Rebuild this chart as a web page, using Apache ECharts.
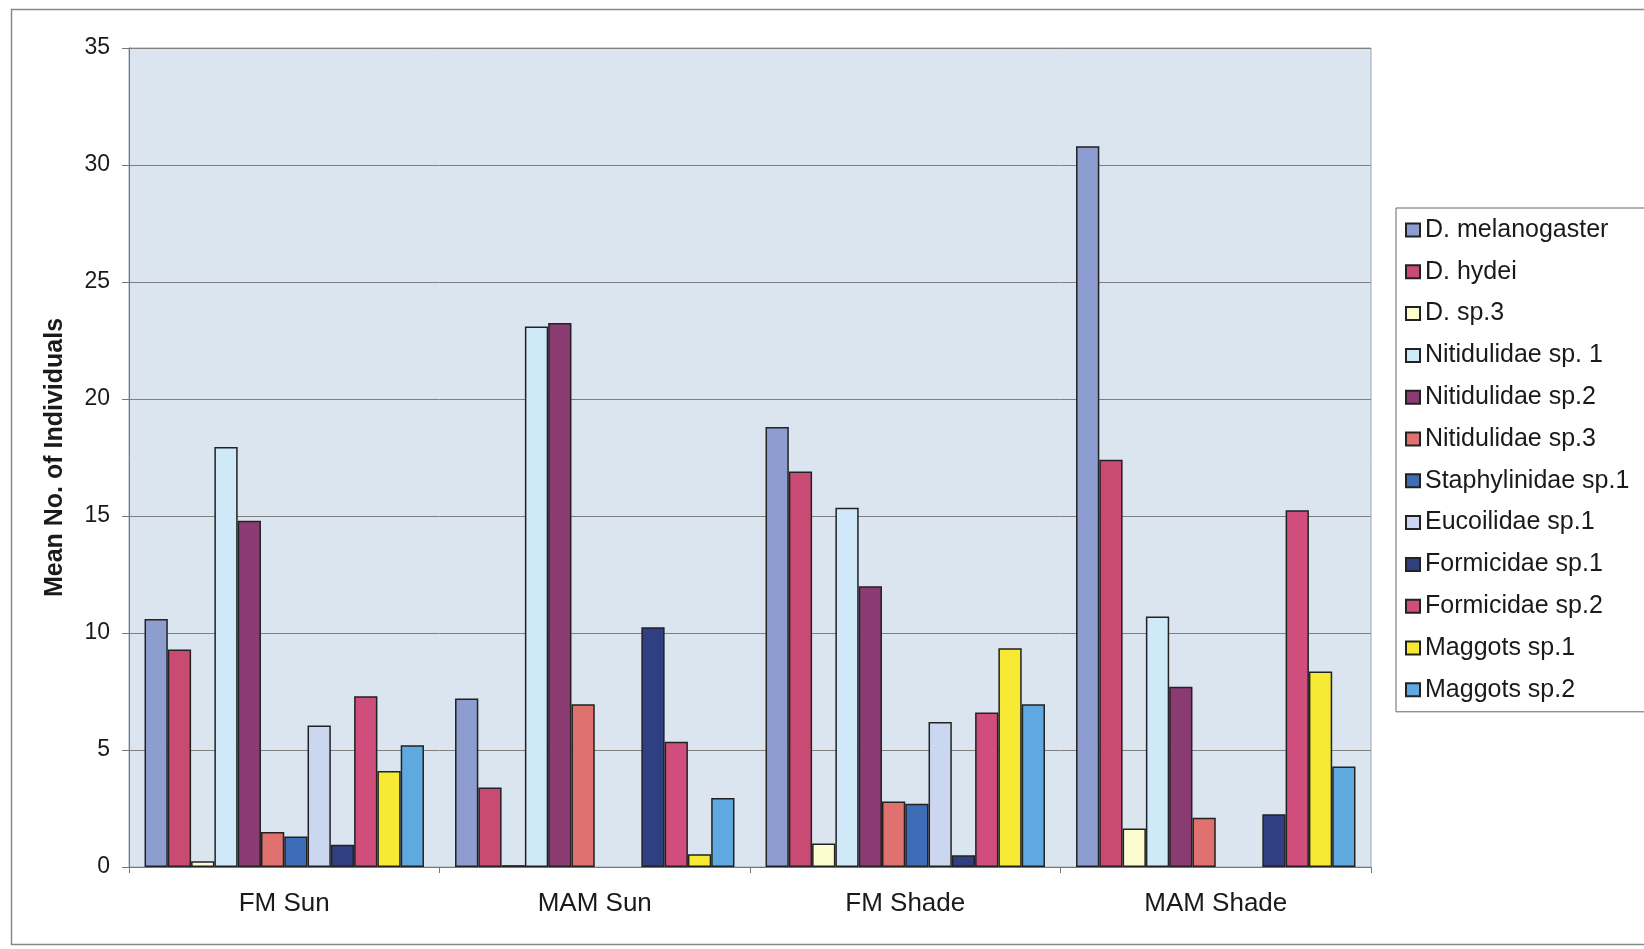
<!DOCTYPE html>
<html><head><meta charset="utf-8">
<script src="https://cdn.jsdelivr.net/npm/echarts@6/dist/echarts.min.js"></script>
<style>html,body{margin:0;padding:0;background:#fff}#c{width:1644px;height:949px}</style>
</head><body><div id="c"></div>
<script>
const categories = ['FM Sun', 'MAM Sun', 'FM Shade', 'MAM Shade'];
const seriesNames = ['D. melanogaster','D. hydei','D. sp.3','Nitidulidae sp. 1','Nitidulidae sp.2','Nitidulidae sp.3','Staphylinidae sp.1','Eucoilidae sp.1','Formicidae sp.1','Formicidae sp.2','Maggots sp.1','Maggots sp.2'];
const dMelanogaster = [10.6, 7.2, 18.8, 30.8];
const dHydei = [9.3, 3.4, 16.9, 17.4];
const dSp3 = [0.25, 0.08, 1.0, 1.65];
const nitidulidae1 = [17.95, 23.1, 15.35, 10.7];
const nitidulidae2 = [14.8, 23.25, 12.0, 7.7];
const nitidulidae3 = [1.5, 6.95, 2.8, 2.1];
const staphylinidae1 = [1.3, 0, 2.7, 0];
const eucoilidae1 = [6.05, 0, 6.2, 0];
const formicidae1 = [0.95, 10.25, 0.5, 2.25];
const formicidae2 = [7.3, 5.35, 6.6, 15.25];
const maggots1 = [4.1, 0.55, 9.35, 8.35];
const maggots2 = [5.2, 2.95, 6.95, 4.3];
const yTicks = [0, 5, 10, 15, 20, 25, 30, 35];
const colors = ['#8d9dd0','#c94b74','#fdfbd0','#d0e9f8','#8a3c72','#df716f','#3c6db6','#cbd7f1','#2f3f82','#cf4e7c','#f6ea35','#5fa8e0'];

const allData = [dMelanogaster,dHydei,dSp3,nitidulidae1,nitidulidae2,nitidulidae3,staphylinidae1,eucoilidae1,formicidae1,formicidae2,maggots1,maggots2];
const font = '"Liberation Sans", Arial, sans-serif';
const chart = echarts.init(document.getElementById('c'), null, {renderer:'canvas'});
chart.setOption({
  animation: false,
  backgroundColor: '#fff',
  graphic: [{type:'rect', left:9, top:7, shape:{width:1700, height:935}, style:{fill:'none', stroke:'#888', lineWidth:1.5}, z:-10}],
  grid: {left:129, right:273, top:48, bottom:82, show:true, backgroundColor:'#dbe5ef', borderColor:'#a0a8b0', borderWidth:1},
  legend: {
    orient:'vertical', left:1396, top:208, width:260,
    itemWidth:14, itemHeight:13, itemGap:13.8, icon:'rect',
    padding:[8,30,8,9], borderColor:'#666', borderWidth:1, backgroundColor:'#fff',
    textStyle:{fontFamily:font, fontSize:25, color:'#1a1a1a', lineHeight:28, padding:[0,0,0,0]},
    data: seriesNames
  },
  xAxis: {
    type:'category', data:categories,
    axisLine:{lineStyle:{color:'#777'}},
    axisTick:{show:true, length:6, lineStyle:{color:'#777'}},
    axisLabel:{fontFamily:font, fontSize:26, color:'#1a1a1a', margin:24}
  },
  yAxis: {
    type:'value', min:yTicks[0], max:yTicks[yTicks.length-1], interval:yTicks[1]-yTicks[0],
    name:'Mean No. of Individuals', nameLocation:'middle', nameGap:61,
    nameTextStyle:{fontFamily:font, fontWeight:'bold', fontSize:25, color:'#1a1a1a'},
    axisLine:{show:true, lineStyle:{color:'#777'}},
    axisTick:{show:true, length:7, lineStyle:{color:'#777'}},
    axisLabel:{fontFamily:font, fontSize:23, color:'#1a1a1a', margin:19},
    splitLine:{lineStyle:{color:'#7f7f7f', width:1}}
  },
  series: seriesNames.map((n,i)=>({
    name:n, type:'bar',
    data:allData[i].map(v => v === 0 ? {value:v, itemStyle:{borderWidth:0, opacity:0}} : v),
    barGap:'0%', barCategoryGap:'10%',
    itemStyle:{color:colors[i], borderColor:'#222', borderWidth:1.5}
  }))
});
</script></body></html>
